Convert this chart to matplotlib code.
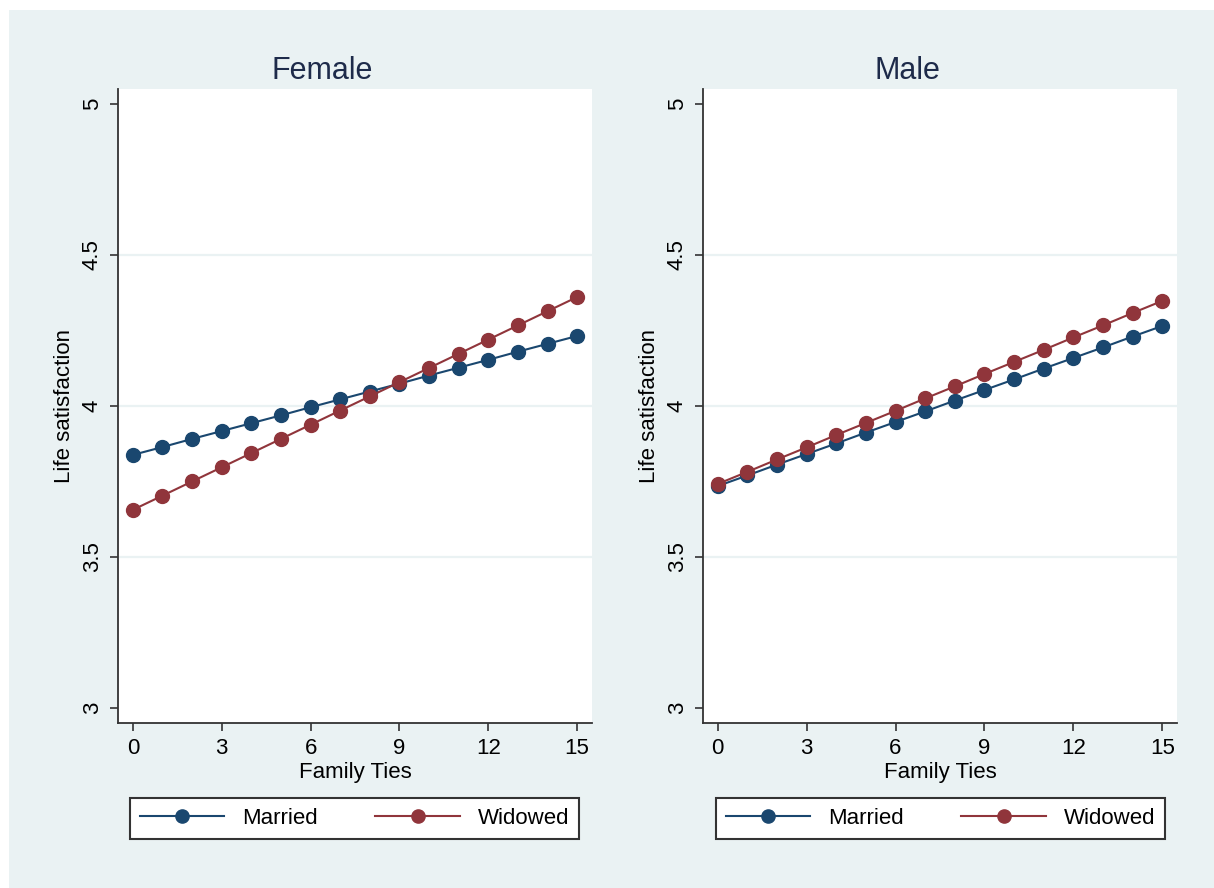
import matplotlib
matplotlib.use("Agg")
import matplotlib.pyplot as plt
from matplotlib.patches import Rectangle

plt.rcParams['font.family'] = ['Liberation Sans', 'DejaVu Sans']

family_ties = list(range(16))

female_married = [3.838, 3.864, 3.891, 3.917, 3.943, 3.969, 3.996, 4.022,
                  4.048, 4.074, 4.101, 4.127, 4.153, 4.180, 4.206, 4.232]
female_widowed = [3.656, 3.703, 3.750, 3.797, 3.844, 3.891, 3.938, 3.985,
                  4.032, 4.079, 4.126, 4.173, 4.220, 4.267, 4.314, 4.361]
male_married = [3.735, 3.770, 3.806, 3.841, 3.876, 3.912, 3.947, 3.982,
                4.018, 4.053, 4.088, 4.124, 4.159, 4.194, 4.230, 4.265]
male_widowed = [3.742, 3.782, 3.823, 3.863, 3.904, 3.944, 3.984, 4.025,
                4.065, 4.106, 4.146, 4.186, 4.227, 4.267, 4.308, 4.348]

panels = [("Female", female_married, female_widowed),
          ("Male", male_married, male_widowed)]

x_ticks = [0, 3, 6, 9, 12, 15]
y_ticks = [3, 3.5, 4, 4.5, 5]
y_tick_labels = ["3", "3.5", "4", "4.5", "5"]

navy = '#1A476F'
maroon = '#90353B'
bg = '#EAF2F3'
dark = '#333333'

fig = plt.figure(figsize=(12.14, 8.88), dpi=100, facecolor='white')
fig.patches.append(Rectangle((9 / 1214, 0), 1, 1 - 10 / 888, transform=fig.transFigure,
                             facecolor=bg, edgecolor='none', zorder=-10))

lefts = [118 / 1214, 703 / 1214]
title_x = [322 / 1214, 907 / 1214]
legend_boxes = [(130 / 1214, 449 / 1214), (716 / 1214, 449 / 1214)]

for i, (name, married, widowed) in enumerate(panels):
    ax = fig.add_axes([lefts[i], 1 - 723 / 888, 474 / 1214, 634 / 888])
    ax.set_facecolor('white')
    for y in [3.5, 4, 4.5]:
        ax.axhline(y, color=bg, lw=1.6, zorder=0)
    l1, = ax.plot(family_ties, married, color=navy, lw=1.5, marker='o',
                  markersize=10, label='Married', zorder=3)
    l2, = ax.plot(family_ties, widowed, color=maroon, lw=1.5, marker='o',
                  markersize=10, label='Widowed', zorder=3)
    ax.set_xlim(-0.5, 15.5)
    ax.set_ylim(2.95, 5.05)
    ax.set_xticks(x_ticks)
    ax.set_yticks(y_ticks)
    ax.set_yticklabels(y_tick_labels, rotation=90, va='center')
    for s in ['top', 'right']:
        ax.spines[s].set_visible(False)
    for s in ['left', 'bottom']:
        ax.spines[s].set_color(dark)
        ax.spines[s].set_linewidth(1.3)
    ax.tick_params(axis='both', direction='out', length=6, width=1.2, color=dark,
                   labelsize=16, labelcolor='black', pad=5)
    ax.set_xlabel('Family Ties', fontsize=16, labelpad=2)
    ax.set_ylabel('Life satisfaction', fontsize=16, labelpad=5)
    fig.text(title_x[i], 1 - 71 / 888, name, ha='center', va='center',
             fontsize=22, color='#1E2B4A')
    x0, w = legend_boxes[i]
    leg = ax.legend(handles=[l1, l2], loc='center', ncol=2, mode='expand',
                    bbox_to_anchor=(x0, 1 - 839 / 888, w, 42 / 888),
                    bbox_transform=fig.transFigure, fontsize=16, frameon=True,
                    fancybox=False, handlelength=3.8, handletextpad=0.8,
                    borderaxespad=0, borderpad=0.45, markerscale=0.95)
    leg.get_frame().set_edgecolor(dark)
    leg.get_frame().set_linewidth(1.5)
    leg.get_frame().set_facecolor('white')
    leg.get_frame().set_alpha(1)

fig.savefig('out.png', dpi=100, facecolor='white')
